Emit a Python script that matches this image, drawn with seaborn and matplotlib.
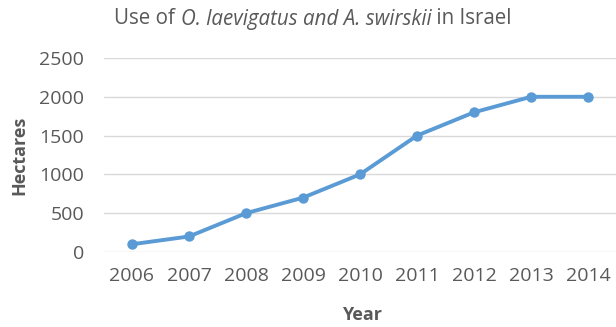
import matplotlib
matplotlib.use("Agg")
import matplotlib.pyplot as plt
import seaborn as sns
import pandas as pd

years = ["2006", "2007", "2008", "2009", "2010", "2011", "2012", "2013", "2014"]
hectares = [100, 200, 500, 700, 1000, 1500, 1800, 2000, 2000]
y_ticks = [0, 500, 1000, 1500, 2000, 2500]
title_parts = [("Use of ", "normal"), ("O. laevigatus and A. swirskii", "italic"),
               (" in Israel", "normal")]

sns.set_theme(style="white")
plt.rcParams["font.family"] = ["Open Sans", "DejaVu Sans"]

TXT = "#595959"
df = pd.DataFrame({"Year": years, "Hectares": hectares})

fig = plt.figure(figsize=(6.16, 3.27), dpi=100)
ax = fig.add_axes([103.5 / 616, 1 - 252 / 327, 513 / 616, 194 / 327])

sns.lineplot(data=df, x="Year", y="Hectares", ax=ax, color="#5B9BD5",
             linewidth=2.8, marker="o", markersize=7.5, markeredgewidth=0,
             sort=False)

ax.set_xlim(-0.5, len(years) - 0.5)
ax.set_ylim(0, 2500)
ax.set_yticks(y_ticks)
ax.yaxis.grid(True, color="#D9D9D9", linewidth=1)
ax.xaxis.grid(False)
for s in ax.spines.values():
    s.set_visible(False)
ax.tick_params(axis="both", length=0, labelsize=14, colors=TXT)
ax.tick_params(axis="y", pad=14)
ax.tick_params(axis="x", pad=11)

ax.set_xlabel("Year", fontsize=13, fontweight="bold", color=TXT, va="center")
ax.xaxis.set_label_coords((362 - 103.5) / 513, (252 - 315) / 194)
ax.set_ylabel("Hectares", fontsize=13, fontweight="bold", color=TXT, va="center")
ax.yaxis.set_label_coords((19 - 103.5) / 513, 0.5)

# title built from pieces (regular / italic / regular), then centred
title_y = 1 - 19 / 327
pieces = [fig.text(0, title_y, txt, ha="left", va="center", fontsize=14.8,
                   color=TXT, style=style) for txt, style in title_parts]

renderer = fig.canvas.get_renderer()
widths = [p.get_window_extent(renderer).width for p in pieces]
x0 = 313 - sum(widths) / 2
for p, w in zip(pieces, widths):
    p.set_x(x0 / 616)
    x0 += w

fig.savefig("out.png", dpi=100)
